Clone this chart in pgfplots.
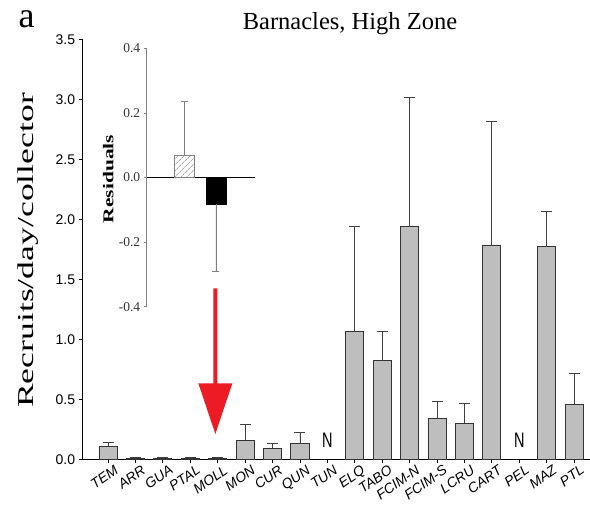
\documentclass[border=0pt]{standalone}
\usepackage{pgfplots}
\pgfplotsset{compat=1.18}
\usepackage{fontspec}
\setmainfont{Liberation Serif}
\setsansfont{Liberation Sans}
\usetikzlibrary{patterns.meta}

\definecolor{barfill}{HTML}{BEBEBE}
\definecolor{bardraw}{HTML}{333333}
\definecolor{errcol}{HTML}{404040}
\definecolor{arrowred}{HTML}{ED1C24}

\begin{document}
\begin{tikzpicture}[x=1pt,y=1pt]
\useasboundingbox (0,0) rectangle (590,505);

% main panel: recruitment per site
\begin{axis}[
  at={(82.7pt,45.7pt)}, anchor=south west,
  scale only axis, width=507.3pt, height=420pt,
  xmin=-0.923, xmax=17.58, ymin=0, ymax=3.5,
  axis lines=left, axis line style={-, line width=0.9pt},
  clip=false,
  xtick={0,1,...,17},
  xticklabels={TEM,ARR,GUA,PTAL,MOLL,MON,CUR,QUN,TUN,ELQ,TABO,FCIM-N,FCIM-S,LCRU,CART,PEL,MAZ,PTL},
  ytick={0,0.5,1,1.5,2,2.5,3,3.5},
  /pgf/number format/assume math mode=true,
  yticklabel style={/pgf/number format/fixed, /pgf/number format/fixed zerofill,
    /pgf/number format/precision=1, font=\sffamily\fontsize{14}{14}\selectfont},
  xticklabel style={font=\sffamily\itshape\fontsize{14}{14}\selectfont, rotate=35,
    anchor=north east, inner sep=1pt, xshift=5pt, yshift=-3pt},
  tick align=outside, major tick length=4pt,
  tick style={line width=0.8pt, black},
]
\addplot[ybar, bar width=0.66, fill=barfill, draw=bardraw, line width=0.8pt,
  error bars/.cd, y dir=plus, y explicit,
  error bar style={line width=0.8pt, color=errcol},
  error mark options={line width=1pt, mark size=5.5pt, rotate=90}]
coordinates {
  (0,0.110) +- (0,0.028)
  (1,0.004) +- (0,0.008)
  (2,0.008) +- (0,0.006)
  (3,0.008) +- (0,0.004)
  (4,0.008) +- (0,0.004)
  (5,0.160) +- (0,0.126)
  (6,0.092) +- (0,0.042)
  (7,0.135) +- (0,0.087)
  (9,1.063) +- (0,0.875)
  (10,0.822) +- (0,0.241)
  (11,1.938) +- (0,1.079)
  (12,0.342) +- (0,0.138)
  (13,0.300) +- (0,0.169)
  (14,1.786) +- (0,1.033)
  (16,1.772) +- (0,0.297)
  (17,0.456) +- (0,0.255)
};
% sites without collectors
\node[font=\sffamily\fontsize{14.5}{14.5}\selectfont] at (axis cs:8,0.157) {\scalebox{1}[1.45]{N}};
\node[font=\sffamily\fontsize{14.5}{14.5}\selectfont] at (axis cs:15,0.157) {\scalebox{1}[1.45]{N}};
% highlight arrow
\fill[arrowred] (axis cs:3.842,1.425) -- (axis cs:3.842,0.633) -- (axis cs:3.295,0.633)
  -- (axis cs:3.915,0.211) -- (axis cs:4.535,0.633) -- (axis cs:3.988,0.633)
  -- (axis cs:3.988,1.425) -- cycle;
\end{axis}

% inset: residuals
\begin{axis}[
  at={(146.7pt,198.3pt)}, anchor=south west,
  scale only axis, width=108.3pt, height=258.4pt,
  xmin=-0.2, xmax=3.24, ymin=-0.4, ymax=0.4,
  axis y line=left, axis x line=middle,
  x axis line style={-, black, line width=0.8pt},
  y axis line style={-, gray, line width=0.6pt},
  xtick=\empty,
  ytick={-0.4,-0.2,0,0.2,0.4},
  yticklabels={-0.4,-0.2,0.0,0.2,0.4},
  yticklabel style={font=\fontsize{13.5}{13.5}\selectfont, text=black!80},
  tick align=outside, major tick length=3pt,
  tick style={gray, line width=0.6pt},
  clip=false,
]
\addplot[ybar, bar width=0.63, draw=gray, line width=0.6pt,
  pattern={Lines[angle=45,distance=4pt,line width=0.6pt]}, pattern color=gray,
  error bars/.cd, y dir=plus, y explicit,
  error bar style={line width=0.6pt, color=gray},
  error mark options={line width=0.8pt, mark size=3.5pt, rotate=90}]
coordinates {(1,0.068) +- (0,0.169)};
\addplot[ybar, bar width=0.63, fill=black, draw=black, line width=0.6pt,
  error bars/.cd, y dir=minus, y explicit,
  error bar style={line width=0.6pt, color=gray},
  error mark options={line width=0.8pt, mark size=3.5pt, rotate=90}]
coordinates {(2,-0.082) +- (0,0.208)};
\end{axis}

\node[rotate=90, anchor=base, font=\bfseries\fontsize{15}{15}\selectfont] at (113.3,326) {\scalebox{1.43}[1]{Residuals}};
\node[rotate=90, anchor=base, font=\fontsize{22.7}{22.7}\selectfont] at (33.3,254.5) {\scalebox{1.57}[1]{Recruits/day/collector}};
\node[anchor=base, font=\fontsize{24.5}{24.5}\selectfont] at (350,475.7) {Barnacles, High Zone};
\node[anchor=base, inner sep=0pt, font=\fontsize{36}{36}\selectfont] at (26.7,477.7) {a};
\end{tikzpicture}
\end{document}
